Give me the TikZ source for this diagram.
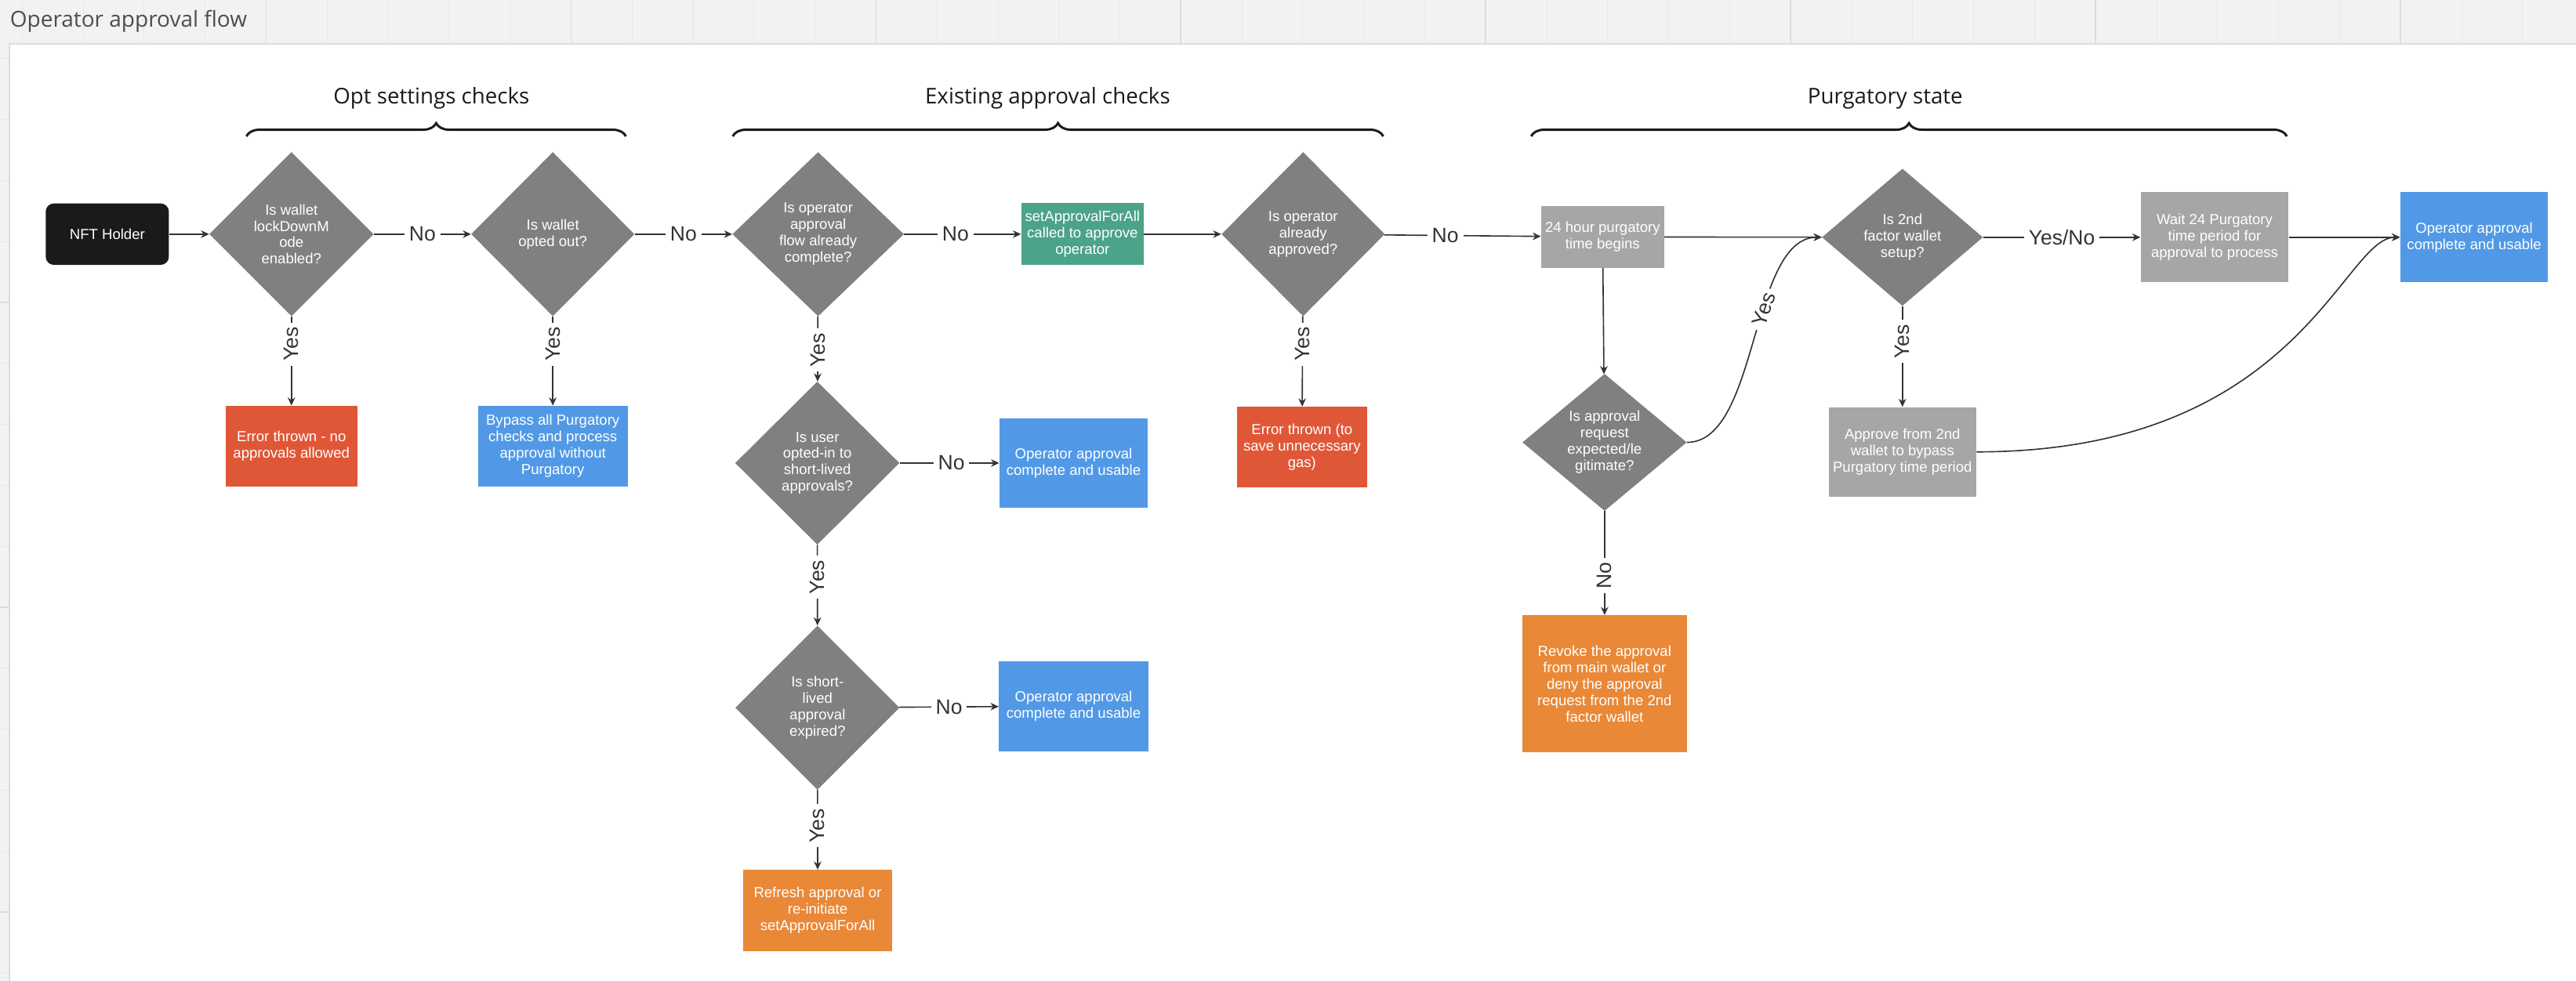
\documentclass[tikz,border=0pt]{standalone}
\usepackage{fontspec}
\usepackage{tikz}
\usetikzlibrary{shapes.geometric, arrows.meta, decorations.pathreplacing}

\setmainfont{Liberation Sans}
\newfontfamily\headfont{Open Sans}

\definecolor{decgray}{HTML}{808080}
\definecolor{boxgray}{HTML}{A6A6A6}
\definecolor{errred}{HTML}{E05737}
\definecolor{okblue}{HTML}{5199E6}
\definecolor{callgreen}{HTML}{4BA38A}
\definecolor{actorange}{HTML}{E98837}
\definecolor{holderblack}{HTML}{1A1A1A}
\definecolor{linegray}{HTML}{333333}
\definecolor{titlegray}{HTML}{4D4D4D}
\definecolor{canvas}{HTML}{F2F2F2}
\definecolor{gridminor}{HTML}{E8E8E8}
\definecolor{gridmajor}{HTML}{DCDCDC}

\begin{document}
\begin{tikzpicture}[x=0.05cm, y=-0.05cm,
	decision/.style={diamond, fill=decgray, text=white, align=center, inner sep=0pt,
		font=\fontsize{12.6}{14.2}\selectfont},
	process/.style={rectangle, text=white, align=center, inner sep=0pt,
		font=\fontsize{12.6}{14.2}\selectfont},
	answer/.style={fill=white, text=linegray, inner sep=4pt, font=\fontsize{18}{20}\selectfont},
	flow/.style={line width=1.1pt, draw=linegray, -{Stealth[length=7pt, width=6.5pt]}},
	group/.style={decorate, decoration={brace, amplitude=0.4cm}, line width=2pt, draw=holderblack},
	heading/.style={font=\headfont\fontsize{18.8}{22}\selectfont, text=holderblack, inner sep=0pt, anchor=base}
]
	\useasboundingbox (0,0) rectangle (1568,597.4);

	% Canvas and grid
	\fill[canvas] (0,0) rectangle (1568,597.4);
	\foreach \i in {0,...,41}
		\draw[gridminor, line width=0.6pt] ({13.5+37.12*\i},0) -- ({13.5+37.12*\i},597.4);
	\foreach \i in {0,...,16}
		\draw[gridminor, line width=0.6pt] (0,{-1.4+37.12*\i}) -- (1568,{-1.4+37.12*\i});
	\foreach \i in {0,...,7}
		\draw[gridmajor, line width=1.2pt] ({162+185.6*\i},0) -- ({162+185.6*\i},597.4);
	\foreach \i in {1,...,3}
		\draw[gridmajor, line width=1.2pt] (0,{-1.4+185.6*\i}) -- (1568,{-1.4+185.6*\i});
	\fill[white] (5.7,26.7) rectangle (1568,597.4);
	\draw[gridmajor, line width=1.4pt] (5.7,597.4) -- (5.7,26.7) -- (1568,26.7);

	% Titles
	\node[anchor=base west, inner sep=0pt, text=titlegray, font=\headfont\fontsize{19}{22}\selectfont] (title) at (6,16.6) {Operator approval flow};
	\node[heading] (optlabel) at (262.6,63.4) {Opt settings checks};
	\node[heading] (existlabel) at (637.7,63.4) {Existing approval checks};
	\node[heading] (purglabel) at (1147.5,63.4) {Purgatory state};
	\draw[group] (150,83) -- (381,83);
	\draw[group] (446,83) -- (842,83);
	\draw[group] (932,83) -- (1392,83);

	% Nodes
	\node[process, fill=holderblack, rounded corners=0.25cm, minimum width=3.75cm, minimum height=1.87cm] (holder) at (65.3,142.6) {NFT Holder};
	\node[decision, minimum width=5cm, minimum height=5cm] (lock) at (177.4,142.6) {Is wallet\\lockDownM\\ode\\enabled?};
	\node[decision, minimum width=4.97cm, minimum height=5cm] (optout) at (336.5,142.6) {Is wallet\\opted out?};
	\node[decision, minimum width=5.22cm, minimum height=5cm] (flowdone) at (498,142.6) {Is operator\\approval\\flow already\\complete?};
	\node[process, fill=callgreen, minimum width=3.73cm, minimum height=1.89cm] (setall) at (658.9,142.6) {setApprovalForAll\\called to approve\\operator};
	\node[decision, minimum width=4.97cm, minimum height=5cm] (already) at (793.2,142.6) {Is operator\\already\\approved?};
	\node[process, fill=boxgray, minimum width=3.75cm, minimum height=1.88cm] (timer) at (975.5,144.3) {24 hour purgatory\\time begins};
	\node[decision, minimum width=4.9cm, minimum height=4.18cm] (second) at (1158,144.5) {Is 2nd\\factor wallet\\setup?};
	\node[process, fill=boxgray, minimum width=4.5cm, minimum height=2.75cm] (wait) at (1348,144.5) {Wait 24 Purgatory\\time period for\\approval to process};
	\node[process, fill=okblue, minimum width=4.5cm, minimum height=2.75cm] (okfinal) at (1506,144.5) {Operator approval\\complete and usable};

	\node[process, fill=errred, minimum width=4cm, minimum height=2.45cm] (err1) at (177.4,271.6) {Error thrown - no\\approvals allowed};
	\node[process, fill=okblue, minimum width=4.55cm, minimum height=2.45cm] (bypass) at (336.5,271.6) {Bypass all Purgatory\\checks and process\\approval without\\Purgatory};
	\node[decision, minimum width=5cm, minimum height=4.97cm] (short) at (497.5,282) {Is user\\opted-in to\\short-lived\\approvals?};
	\node[process, fill=okblue, minimum width=4.52cm, minimum height=2.73cm] (ok1) at (653.5,282) {Operator approval\\complete and usable};
	\node[decision, minimum width=5cm, minimum height=5cm] (expired) at (497.6,431) {Is short-\\lived\\approval\\expired?};
	\node[process, fill=okblue, minimum width=4.55cm, minimum height=2.75cm] (ok2) at (653.5,430) {Operator approval\\complete and usable};
	\node[process, fill=actorange, minimum width=4.52cm, minimum height=2.48cm] (refresh) at (497.7,554.5) {Refresh approval or\\re-initiate\\setApprovalForAll};
	\node[process, fill=errred, minimum width=3.95cm, minimum height=2.45cm] (err2) at (792.5,272.2) {Error thrown (to\\save unnecessary\\gas)};
	\node[decision, minimum width=5cm, minimum height=4.15cm] (legit) at (976.7,269.4) {Is approval\\request\\expected/le\\gitimate?};
	\node[process, fill=actorange, minimum width=5cm, minimum height=4.18cm] (revoke) at (976.7,416.5) {Revoke the approval\\from main wallet or\\deny the approval\\request from the 2nd\\factor wallet};
	\node[process, fill=boxgray, minimum width=4.5cm, minimum height=2.73cm] (approve2) at (1158,275.2) {Approve from 2nd\\wallet to bypass\\Purgatory time period};

	% Directed edges
	\draw[flow] (holder) -- (lock);
	\draw[flow] (lock) -- node[answer] {No} (optout);
	\draw[flow] (optout) -- node[answer] {No} (flowdone);
	\draw[flow] (flowdone) -- node[answer, pos=0.44] {No} (setall);
	\draw[flow] (setall) -- (already);
	\draw[flow] (already) -- node[answer, pos=0.39] {No} (timer);
	\draw[flow] (timer) -- (second);
	\draw[flow] (second) -- node[answer] {Yes/No} (wait);
	\draw[flow] (wait) -- (okfinal);

	\draw[flow] (lock) -- node[answer, rotate=90, pos=0.31] {Yes} (err1);
	\draw[flow] (optout) -- node[answer, rotate=90, pos=0.31] {Yes} (bypass);
	\draw[flow] (flowdone) -- node[answer, rotate=90, pos=0.52] {Yes} (short);
	\draw[flow] (short) -- node[answer, pos=0.52] {No} (ok1);
	\draw[flow] (short) -- node[answer, rotate=90, pos=0.4] {Yes} (expired);
	\draw[flow] (expired) -- node[answer] {No} (ok2);
	\draw[flow] (expired) -- node[answer, rotate=90, pos=0.45] {Yes} (refresh);
	\draw[flow] (already) -- node[answer, rotate=90, pos=0.31] {Yes} (err2);

	\draw[flow] (timer) -- (legit);
	\draw[flow] (legit) -- node[answer, rotate=90, pos=0.62] {No} (revoke);
	\draw[flow] (legit) to[out=0, in=180, looseness=0.75] node[answer, sloped, pos=0.6] {Yes} (second);
	\draw[flow] (second) -- node[answer, rotate=90, pos=0.35] {Yes} (approve2);
	\draw[flow] (approve2) to[out=0, in=180, out looseness=1.74, in looseness=0.31] (okfinal);
\end{tikzpicture}
\end{document}
